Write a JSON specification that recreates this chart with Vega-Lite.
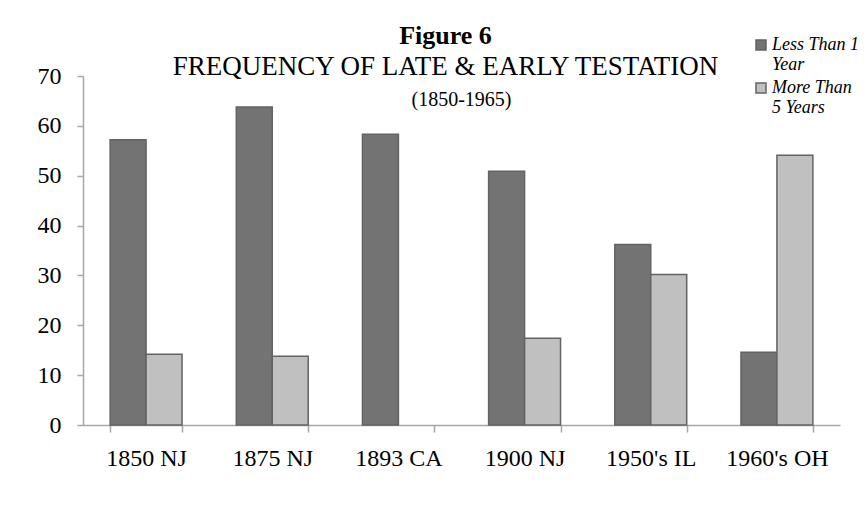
{
  "$schema": "https://vega.github.io/schema/vega-lite/v6.json",
  "autosize": "none",
  "width": 757,
  "height": 349,
  "padding": {"left": 83, "top": 76, "right": 28, "bottom": 83},
  "background": "white",
  "title": {
    "text": "Figure 6",
    "subtitle": "FREQUENCY OF LATE & EARLY TESTATION",
    "anchor": "middle",
    "frame": "group",
    "dx": -16,
    "font": "Liberation Serif",
    "fontSize": 26,
    "fontWeight": "bold",
    "color": "black",
    "subtitleFont": "Liberation Serif",
    "subtitleFontSize": 27,
    "subtitleColor": "black",
    "subtitlePadding": 5,
    "offset": -44
  },
  "data": {
    "values": [
      {"place": "1850 NJ", "series": "Less Than 1 Year", "value": 57.2},
      {"place": "1850 NJ", "series": "More Than 5 Years", "value": 14.2},
      {"place": "1875 NJ", "series": "Less Than 1 Year", "value": 63.8},
      {"place": "1875 NJ", "series": "More Than 5 Years", "value": 13.8},
      {"place": "1893 CA", "series": "Less Than 1 Year", "value": 58.3},
      {"place": "1900 NJ", "series": "Less Than 1 Year", "value": 50.9},
      {"place": "1900 NJ", "series": "More Than 5 Years", "value": 17.4},
      {"place": "1950's IL", "series": "Less Than 1 Year", "value": 36.2},
      {"place": "1950's IL", "series": "More Than 5 Years", "value": 30.2},
      {"place": "1960's OH", "series": "Less Than 1 Year", "value": 14.6},
      {"place": "1960's OH", "series": "More Than 5 Years", "value": 54.1}
    ]
  },
  "mark": {"type": "bar", "stroke": "#636363", "strokeWidth": 1.5},
  "encoding": {
    "x": {
      "field": "place",
      "type": "nominal",
      "sort": null,
      "title": null,
      "scale": {"paddingInner": 0.43, "paddingOuter": 0.215},
      "axis": {
        "labelAngle": 0,
        "tickBand": "extent",
        "labelFont": "Liberation Serif",
        "labelFontSize": 24,
        "labelColor": "black",
        "labelPadding": 14,
        "tickSize": 7,
        "tickColor": "#a6a6a6",
        "tickWidth": 1.5,
        "domainColor": "#a6a6a6",
        "domainWidth": 1.5
      }
    },
    "xOffset": {
      "field": "series",
      "type": "nominal",
      "scale": {"paddingInner": 0, "paddingOuter": 0}
    },
    "y": {
      "field": "value",
      "type": "quantitative",
      "title": "(1850-1965)",
      "scale": {"domain": [0, 70], "nice": false},
      "axis": {
        "values": [0, 10, 20, 30, 40, 50, 60, 70],
        "grid": false,
        "labelFont": "Liberation Serif",
        "labelFontSize": 24,
        "labelColor": "black",
        "labelPadding": 16,
        "tickSize": 6,
        "tickColor": "#a6a6a6",
        "tickWidth": 1.5,
        "domainColor": "#a6a6a6",
        "domainWidth": 1.5,
        "titleAngle": 0,
        "titleX": 378,
        "titleY": 29,
        "titleAlign": "center",
        "titleBaseline": "alphabetic",
        "titleFont": "Liberation Serif",
        "titleFontSize": 20,
        "titleFontWeight": "normal",
        "titleColor": "black"
      }
    },
    "color": {
      "field": "series",
      "type": "nominal",
      "title": null,
      "scale": {"domain": ["Less Than 1 Year", "More Than 5 Years"], "range": ["#737373", "#c0c0c0"]},
      "legend": {
        "orient": "none",
        "legendX": 669,
        "legendY": -40,
        "symbolType": "square",
        "symbolSize": 100,
        "symbolStrokeColor": "#636363",
        "symbolStrokeWidth": 1.5,
        "labelFont": "Liberation Serif",
        "labelFontStyle": "italic",
        "labelFontSize": 18,
        "labelLineHeight": 21,
        "labelColor": "black",
        "labelBaseline": "middle",
        "labelOffset": 2,
        "labelLimit": 200,
        "rowPadding": 5,
        "labelExpr": "datum.label == 'Less Than 1 Year' ? ['Less Than 1', 'Year'] : ['More Than', '5 Years']"
      }
    }
  },
  "config": {
    "view": {"stroke": null}
  }
}
